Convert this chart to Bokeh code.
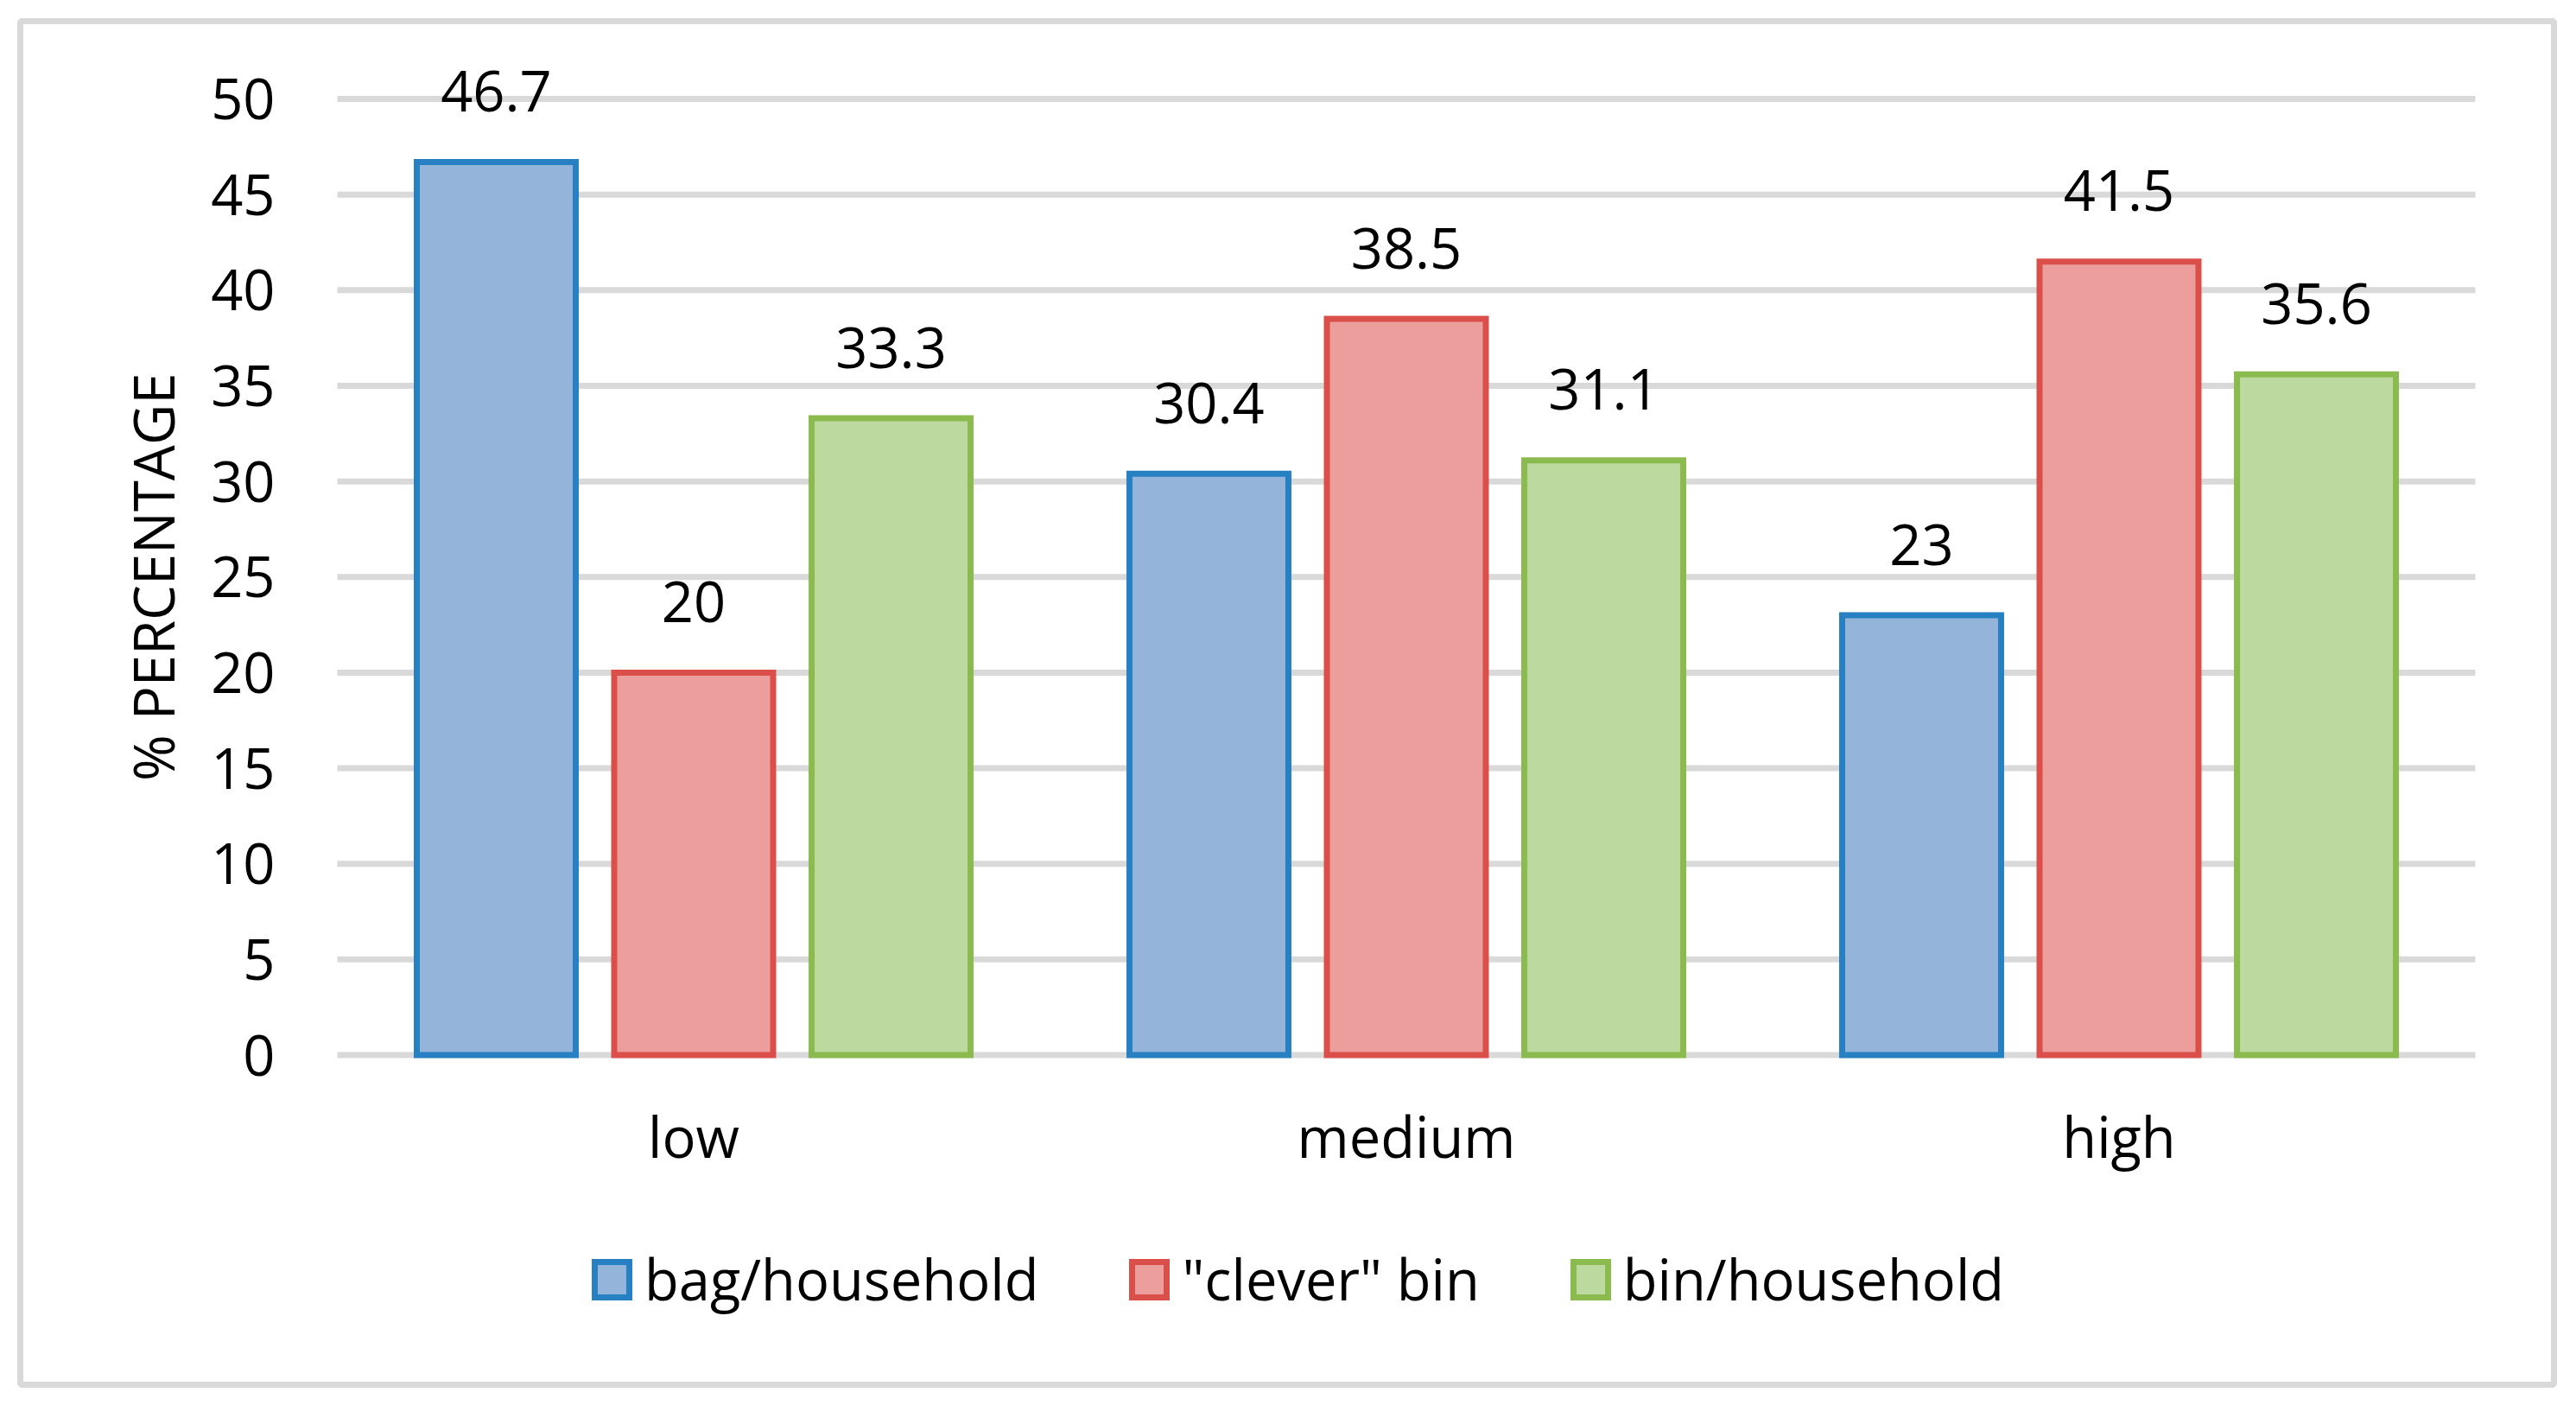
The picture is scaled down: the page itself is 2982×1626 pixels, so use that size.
import math
from bokeh.plotting import figure
from bokeh.models import Range1d, Legend, LegendItem, ColumnDataSource
from bokeh.core.properties import value
from bokeh.embed import file_html
from bokeh.resources import INLINE

# ---------------- data ----------------
categories = ["low", "medium", "high"]
series_names = ["bag/household", '"clever" bin', "bin/household"]
bag_household = [46.7, 30.4, 23.0]
clever_bin = [20.0, 38.5, 41.5]
bin_household = [33.3, 31.1, 35.6]
y_ticks = [0, 5, 10, 15, 20, 25, 30, 35, 40, 45, 50]
y_tick_labels = [str(t) for t in y_ticks]
y_axis_title = "% PERCENTAGE"

# ---------------- style ----------------
FONT = "Open Sans"
FS = "65px"
line_colors = ["#2680C2", "#DB4F4B", "#8BBA4F"]
fill_colors = ["#95B4D9", "#EB9E9C", "#BCD9A0"]
offsets = [-0.277, 0.0, 0.277]
BAR_W = 0.223
GRID = "#D9D9D9"

# The plot frame is the bordered chart box; the category axis spans
# 0..len(categories) inside it, value axis 0..50 inside it.
p = figure(x_range=Range1d(-0.44485, 3.1103), y_range=Range1d(-17.24, 54.07),
           width=2980, height=1624, output_backend="svg", toolbar_location=None,
           min_border_left=23, min_border_right=24,
           min_border_top=24, min_border_bottom=22)
p.axis.visible = False
p.grid.visible = False
p.background_fill_color = "white"
p.border_fill_color = "white"
p.outline_line_color = GRID
p.outline_line_width = 7

n_cat = len(categories)
cat_centers = [i + 0.5 for i in range(n_cat)]

# horizontal gridlines
p.segment(x0=[0] * len(y_ticks), x1=[n_cat] * len(y_ticks), y0=y_ticks,
          y1=y_ticks, line_color=GRID, line_width=7)

# value-axis tick labels
p.text(x=[0] * len(y_ticks), y=y_ticks, text=y_tick_labels, x_offset=-72,
       text_align="right", text_baseline="middle", text_font=value(FONT),
       text_font_size=FS, text_color="black")

# value-axis title
p.text(x=[0], y=[(y_ticks[0] + y_ticks[-1]) / 2], text=[y_axis_title],
       angle=math.pi / 2, x_offset=-214, text_align="center",
       text_baseline="middle", text_font=value(FONT), text_font_size=FS,
       text_color="black")

# category labels
p.text(x=cat_centers, y=[0] * n_cat, text=categories, y_offset=94,
       text_align="center", text_baseline="middle", text_font=value(FONT),
       text_font_size=FS, text_color="black")

series_values = [bag_household, clever_bin, bin_household]
items = []
for name, vals, off, lc, fc in zip(series_names, series_values, offsets,
                                   line_colors, fill_colors):
    src = ColumnDataSource(dict(x=[c + off for c in cat_centers], val=vals,
                                lab=[f"{v:g}" for v in vals]))
    r = p.vbar(x="x", top="val", width=BAR_W, source=src, fill_color=fc,
               line_color=lc, line_width=7, line_join="miter")
    p.text(x="x", y="val", text="lab", source=src, text_align="center",
           text_baseline="middle", y_offset=-82, text_font=value(FONT),
           text_font_size=FS, text_color="black")
    items.append(LegendItem(label=name, renderers=[r]))

legend = Legend(items=items, orientation="horizontal",
                location=(660, 78), glyph_width=50, glyph_height=51,
                label_standoff=13, spacing=103, padding=0, margin=0,
                border_line_alpha=0, background_fill_alpha=0,
                label_text_font=FONT, label_text_font_size=FS,
                label_text_color="black")
p.add_layout(legend)

open("out.html", "w").write(file_html(p, INLINE))
